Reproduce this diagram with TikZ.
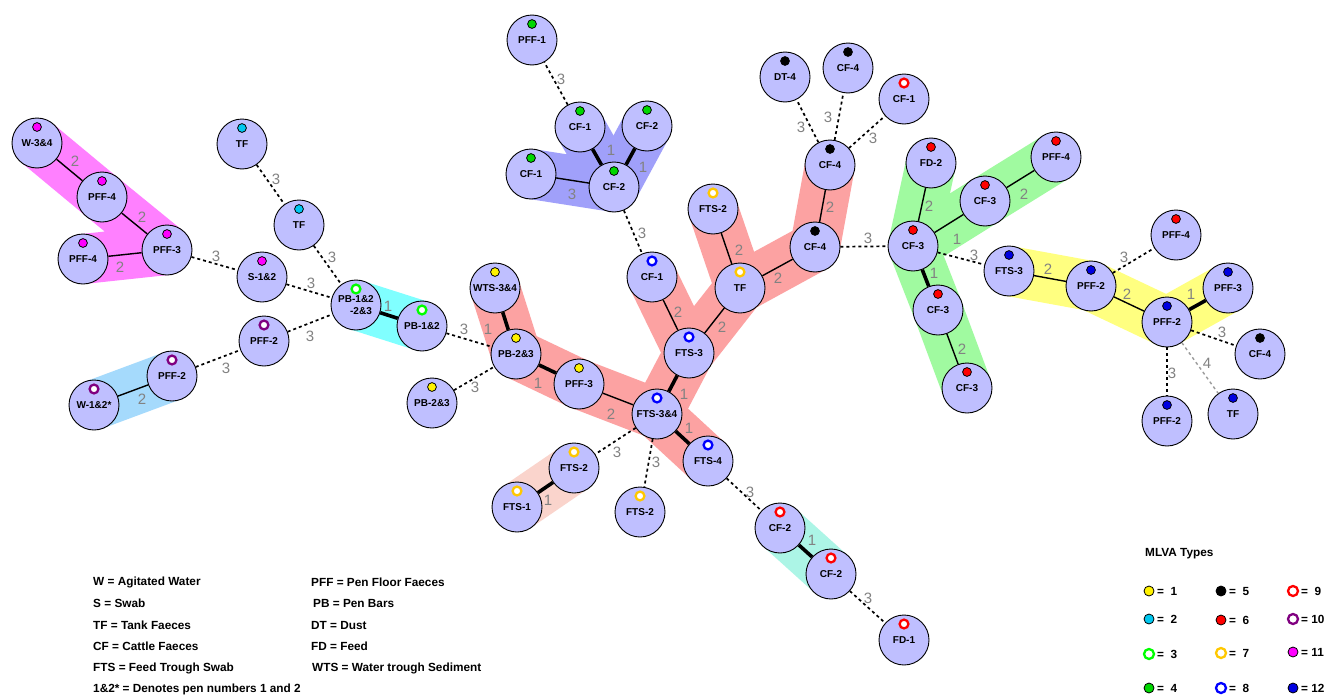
\documentclass[tikz,border=0pt]{standalone}
\usepackage{fontspec}
\newfontfamily\hv{Liberation Sans}
\usetikzlibrary{calc}
\pgfdeclarelayer{bg}
\pgfsetlayers{bg,main}
\definecolor{nodefill}{RGB}{191,191,255}
\definecolor{lblgray}{RGB}{130,130,130}
\definecolor{cII}{RGB}{0,200,240}
\definecolor{cIII}{RGB}{0,255,0}
\definecolor{cIV}{RGB}{0,215,0}
\definecolor{cVII}{RGB}{255,200,0}
\definecolor{cVIII}{RGB}{0,0,255}
\definecolor{cX}{RGB}{128,0,128}
\definecolor{cXI}{RGB}{255,0,255}
\definecolor{cXII}{RGB}{0,0,225}
\definecolor{bMag}{RGB}{255,128,255}
\definecolor{bCyan}{RGB}{128,255,255}
\definecolor{bSky}{RGB}{165,218,252}
\definecolor{bPurp}{RGB}{160,160,250}
\definecolor{bSalm}{RGB}{252,162,162}
\definecolor{bLSalm}{RGB}{250,212,204}
\definecolor{bAqua}{RGB}{172,245,230}
\definecolor{bGreen}{RGB}{160,250,160}
\definecolor{bYell}{RGB}{255,255,128}
\tikzset{
  smp/.style={circle, draw=black, line width=0.9pt, fill=nodefill, minimum size=50pt,
    inner sep=0pt, align=center, font=\hv\bfseries\fontsize{10}{11}\selectfont},
  fdot/.style={draw=black, line width=0.8pt, fill=#1},
  rdot/.style={draw=#1, line width=2.3pt, fill=white},
  m1/.style={fdot=yellow}, m2/.style={fdot=cII}, m3/.style={rdot=cIII},
  m4/.style={fdot=cIV}, m5/.style={fdot=black}, m6/.style={fdot=red},
  m7/.style={rdot=cVII}, m8/.style={rdot=cVIII}, m9/.style={rdot=red},
  m10/.style={rdot=cX}, m11/.style={fdot=cXI}, m12/.style={fdot=cXII},
  eone/.style={line width=3.6pt, black},
  etwo/.style={line width=1.4pt, black},
  ethree/.style={line width=1.7pt, black, dash pattern=on 3pt off 3pt},
  efour/.style={line width=1.4pt, lblgray!80, dash pattern=on 3pt off 3pt},
  lbl/.style={text=lblgray, inner sep=0pt, font=\hv\fontsize{15}{15}\selectfont},
  band/.style={line width=50pt, line cap=round, line join=round, draw=#1},
  legtxt/.style={anchor=west, inner sep=0pt, font=\hv\bfseries\fontsize{11.8}{13}\selectfont},
}
\newcommand\Samp[5]{%
  \node[smp] (#1) at (#2,#3) {#4};
  \path[#5] ([yshift=16pt]#1.center) circle[radius=4.4pt];}
\newcommand\LegMark[4]{%
  \path[#3] (#1,#2) circle[radius=5pt];
  \node[legtxt] (lg#1x#2) at (#1+8,#2) {#4};}
\begin{document}
\begin{tikzpicture}[x=1pt,y=-1pt]
\useasboundingbox (0,0) rectangle (1325,696);
% ---------- nodes
\Samp{W34}{37}{143}{W-3\&4}{m11}
\Samp{PFF4a}{102}{197}{PFF-4}{m11}
\Samp{PFF3m}{167}{250}{PFF-3}{m11}
\Samp{PFF4b}{83}{259}{PFF-4}{m11}
\Samp{TFa}{242}{144}{TF}{m2}
\Samp{TFb}{299}{225}{TF}{m2}
\Samp{S12}{262}{277}{S-1\&2}{m11}
\Samp{PBh}{356}{305}{\raisebox{-4pt}{PB-1\&2}\\[4pt]\hspace*{10pt}-2\&3}{m3}
\Samp{PB12}{422}{326}{PB-1\&2}{m3}
\Samp{PFF2p}{264}{341}{PFF-2}{m10}
\Samp{PFF2q}{172}{376}{PFF-2}{m10}
\Samp{W12}{94}{405}{W-1\&2*}{m10}
\Samp{PB23s}{432}{403}{PB-2\&3}{m1}
\Samp{PB23}{516}{354}{PB-2\&3}{m1}
\Samp{WTS}{495}{288}{WTS-3\&4}{m1}
\Samp{PFF3y}{579}{384}{PFF-3}{m1}
\Samp{FTS34}{657}{414}{FTS-3\&4}{m8}
\Samp{FTS3}{689}{353}{FTS-3}{m8}
\Samp{FTS4}{708}{461}{FTS-4}{m8}
\Samp{FTS2l}{574}{468}{FTS-2}{m7}
\Samp{FTS1}{517}{507}{FTS-1}{m7}
\Samp{FTS2b}{640}{512}{FTS-2}{m7}
\Samp{CF2r}{780}{528}{CF-2}{m9}
\Samp{CF2s}{831}{574}{CF-2}{m9}
\Samp{FD1}{904}{640}{FD-1}{m9}
\Samp{CF1b}{652}{277}{CF-1}{m8}
\Samp{TFy}{740}{288}{TF}{m7}
\Samp{FTS2t}{713}{209}{FTS-2}{m7}
\Samp{CF4l}{815}{247}{CF-4}{m5}
\Samp{CF4u}{830}{165}{CF-4}{m5}
\Samp{DT4}{785}{77}{DT-4}{m5}
\Samp{CF4t}{848}{68}{CF-4}{m5}
\Samp{CF1r}{904}{99}{CF-1}{m9}
\Samp{PFF1}{532}{40}{PFF-1}{m4}
\Samp{CF1g}{580}{127}{CF-1}{m4}
\Samp{CF2g}{647}{126}{CF-2}{m4}
\Samp{CF1h}{531}{174}{CF-1}{m4}
\Samp{CF2h}{614}{187}{CF-2}{m4}
\Samp{FD2}{931}{163}{FD-2}{m6}
\Samp{PFF4r}{1056}{157}{PFF-4}{m6}
\Samp{CF3m}{985}{201}{CF-3}{m6}
\Samp{CF3h}{913}{246}{CF-3}{m6}
\Samp{CF3l}{938}{310}{CF-3}{m6}
\Samp{CF3b}{967}{388}{CF-3}{m6}
\Samp{FTS3b}{1009}{271}{FTS-3}{m12}
\Samp{PFF2b}{1091}{286}{PFF-2}{m12}
\Samp{PFF4s}{1176}{235}{PFF-4}{m6}
\Samp{PFF2h}{1167}{322}{PFF-2}{m12}
\Samp{PFF3b}{1228}{288}{PFF-3}{m12}
\Samp{CF4r}{1260}{354}{CF-4}{m5}
\Samp{PFF2c}{1167}{421}{PFF-2}{m12}
\Samp{TFc}{1233}{414}{TF}{m12}
% ---------- bands
\begin{pgfonlayer}{bg}
\fill[white] (0,0) rectangle (1325,696);
\draw[band=bMag] (W34.center) -- (PFF4a.center) -- (PFF3m.center) -- (PFF4b.center);
\draw[band=bCyan] (PBh.center) -- (PB12.center);
\draw[band=bSky] (W12.center) -- (PFF2q.center);
\draw[band=bPurp] (CF1h.center) -- (CF2h.center) -- (CF1g.center);
\draw[band=bPurp] (CF2h.center) -- (CF2g.center);
\draw[band=bSalm] (WTS.center) -- (PB23.center) -- (PFF3y.center) -- (FTS34.center) -- (FTS4.center);
\draw[band=bSalm] (FTS34.center) -- (FTS3.center) -- (TFy.center) -- (CF4l.center) -- (CF4u.center);
\draw[band=bSalm] (CF1b.center) -- (FTS3.center);
\draw[band=bSalm] (TFy.center) -- (FTS2t.center);
\draw[band=bLSalm] (FTS2l.center) -- (FTS1.center);
\draw[band=bAqua] (CF2r.center) -- (CF2s.center);
\draw[band=bGreen] (FD2.center) -- (CF3h.center) -- (CF3l.center) -- (CF3b.center);
\draw[band=bGreen] (CF3h.center) -- (CF3m.center) -- (PFF4r.center);
\draw[band=bYell] (FTS3b.center) -- (PFF2b.center) -- (PFF2h.center) -- (PFF3b.center);
\end{pgfonlayer}
% ---------- thin solid edges
\draw[etwo] (W34) -- (PFF4a) node[lbl] (a1) at (75,161) {2};
\draw[etwo] (PFF4a) -- (PFF3m) node[lbl] (a2) at (142,217) {2};
\draw[etwo] (PFF4b) -- (PFF3m) node[lbl] (a3) at (120,267) {2};
\draw[etwo] (W12) -- (PFF2q) node[lbl] (a4) at (142,399) {2};
\draw[etwo] (PFF3y) -- (FTS34) node[lbl] (a5) at (611,414) {2};
\draw[etwo] (FTS3) -- (CF1b) node[lbl] (a6) at (678,312) {2};
\draw[etwo] (FTS3) -- (TFy) node[lbl] (a7) at (722,327) {2};
\draw[etwo] (TFy) -- (FTS2t) node[lbl] (a8) at (739,250) {2};
\draw[etwo] (TFy) -- (CF4l) node[lbl] (a9) at (778,278) {2};
\draw[etwo] (CF4l) -- (CF4u) node[lbl] (a10) at (830,207) {2};
\draw[etwo] (CF2h) -- (CF1h) node[lbl] (a11) at (572,194) {3};
\draw[etwo] (CF3h) -- (FD2) node[lbl] (a12) at (929,206) {2};
\draw[etwo] (CF3h) -- (CF3m) node[lbl] (a13) at (957,239) {1};
\draw[etwo] (CF3m) -- (PFF4r) node[lbl] (a14) at (1024,194) {2};
\draw[etwo] (CF3l) -- (CF3b) node[lbl] (a15) at (962,349) {2};
\draw[etwo] (FTS3b) -- (PFF2b) node[lbl] (a16) at (1048,269) {2};
\draw[etwo] (PFF2b) -- (PFF2h) node[lbl] (a17) at (1127,294) {2};
% ---------- thick edges
\draw[eone] (PBh) -- (PB12) node[lbl] (b1) at (388,306) {1};
\draw[eone] (WTS) -- (PB23) node[lbl] (b2) at (488,329) {1};
\draw[eone] (PB23) -- (PFF3y) node[lbl] (b3) at (538,383) {1};
\draw[eone] (FTS34) -- (FTS3) node[lbl] (b4) at (684,394) {1};
\draw[eone] (FTS34) -- (FTS4) node[lbl] (b5) at (689,428) {1};
\draw[eone] (FTS2l) -- (FTS1) node[lbl] (b6) at (548,500) {1};
\draw[eone] (CF2r) -- (CF2s) node[lbl] (b7) at (812,540) {1};
\draw[eone] (CF2h) -- (CF1g) node[lbl] (b8) at (611,150) {1};
\draw[eone] (CF2h) -- (CF2g) node[lbl] (b9) at (643,167) {1};
\draw[eone] (CF3h) -- (CF3l) node[lbl] (b10) at (934,273) {1};
\draw[eone] (PFF2h) -- (PFF3b) node[lbl] (b11) at (1191,294) {1};
% ---------- dashed edges
\draw[ethree] (PFF3m) -- (S12) node[lbl] (c1) at (216,256) {3};
\draw[ethree] (TFa) -- (TFb) node[lbl] (c2) at (276,179) {3};
\draw[ethree] (TFb) -- (PBh) node[lbl] (c3) at (332,257) {3};
\draw[ethree] (S12) -- (PBh) node[lbl] (c4) at (311,283) {3};
\draw[ethree] (PFF2p) -- (PBh) node[lbl] (c5) at (310,336) {3};
\draw[ethree] (PFF2q) -- (PFF2p) node[lbl] (c6) at (226,368) {3};
\draw[ethree] (PB12) -- (PB23) node[lbl] (c7) at (464,329) {3};
\draw[ethree] (PB23s) -- (PB23) node[lbl] (c8) at (475,387) {3};
\draw[ethree] (FTS34) -- (FTS2l) node[lbl] (c9) at (617,452) {3};
\draw[ethree] (FTS34) -- (FTS2b) node[lbl] (c10) at (656,462) {3};
\draw[ethree] (FTS4) -- (CF2r) node[lbl] (c11) at (750,492) {3};
\draw[ethree] (CF2s) -- (FD1) node[lbl] (c12) at (868,598) {3};
\draw[ethree] (CF2h) -- (CF1b) node[lbl] (c13) at (642,233) {3};
\draw[ethree] (CF1g) -- (PFF1) node[lbl] (c14) at (561,79) {3};
\draw[ethree] (CF4u) -- (DT4) node[lbl] (c15) at (801,127) {3};
\draw[ethree] (CF4u) -- (CF4t) node[lbl] (c16) at (828,117) {3};
\draw[ethree] (CF4u) -- (CF1r) node[lbl] (c17) at (873,138) {3};
\draw[ethree] (CF4l) -- (CF3h) node[lbl] (c18) at (868,238) {3};
\draw[ethree] (CF3h) -- (FTS3b) node[lbl] (c19) at (974,255) {3};
\draw[ethree] (PFF2b) -- (PFF4s) node[lbl] (c20) at (1124,257) {3};
\draw[ethree] (PFF2h) -- (CF4r) node[lbl] (c21) at (1222,332) {3};
\draw[ethree] (PFF2h) -- (PFF2c) node[lbl] (c22) at (1172,373) {3};
\draw[efour] (PFF2h) -- (TFc) node[lbl] (d1) at (1207,363) {4};
% ---------- legend of abbreviations
\node[legtxt] (k1) at (93,582) {W = Agitated Water};
\node[legtxt] (k2) at (93,603) {S = Swab};
\node[legtxt] (k3) at (93,625) {TF = Tank Faeces};
\node[legtxt] (k4) at (93,646) {CF = Cattle Faeces};
\node[legtxt] (k5) at (93,668) {FTS = Feed Trough Swab};
\node[legtxt] (k6) at (93,689) {1\&2* = Denotes pen numbers 1 and 2};
\node[legtxt] (k7) at (311,582) {PFF = Pen Floor Faeces};
\node[legtxt] (k8) at (313,603) {PB = Pen Bars};
\node[legtxt] (k9) at (311,625) {DT = Dust};
\node[legtxt] (k10) at (311,646) {FD = Feed};
\node[legtxt] (k11) at (312,668) {WTS = Water trough Sediment};
% ---------- MLVA legend
\node[legtxt] (mt) at (1145,554) {MLVA Types};
\LegMark{1149}{591}{m1}{=~~1}
\LegMark{1149}{619}{m2}{=~~2}
\LegMark{1149}{654}{m3}{=~~3}
\LegMark{1149}{688}{m4}{=~~4}
\LegMark{1221}{591}{m5}{=~~5}
\LegMark{1221}{620}{m6}{=~~6}
\LegMark{1221}{653}{m7}{=~~7}
\LegMark{1221}{688}{m8}{=~~8}
\LegMark{1293}{591}{m9}{=~~9}
\LegMark{1293}{619}{m10}{= 10}
\LegMark{1293}{652}{m11}{= 11}
\LegMark{1293}{688}{m12}{= 12}
\end{tikzpicture}
\end{document}
